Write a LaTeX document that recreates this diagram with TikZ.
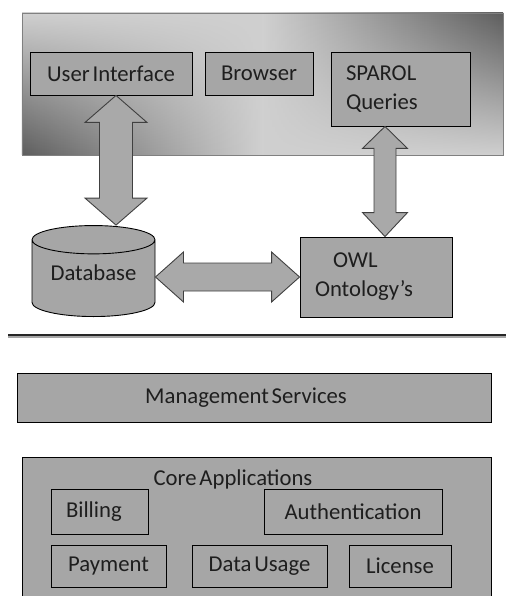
\documentclass[tikz,border=0pt]{standalone}
\usepackage{fontspec}
\setmainfont{Carlito}[WordSpace=0.55]
\usetikzlibrary{shapes.geometric,calc,fadings}
\definecolor{boxgray}{HTML}{A6A6A6}
\definecolor{arrowgray}{HTML}{A9A9A9}
\definecolor{paneldark}{HTML}{5E5E5E}
\definecolor{panellight}{HTML}{D0D0D0}
\definecolor{inkgray}{HTML}{1E1E1E}
\begin{document}
\begin{tikzpicture}[x=1pt,y=-1pt,
    every node/.style={font=\fontsize{22.7}{29}\selectfont, text=inkgray},
    box/.style={draw=black, line width=0.9pt, fill=boxgray, inner sep=0pt},
    fat/.style={draw=black!75, line width=0.9pt, fill=arrowgray, line join=miter}]
  \useasboundingbox (0,0) rectangle (506,596);
  \clip (0,0) rectangle (506,596);

  % client side
  \shade[left color=panellight, right color=paneldark, middle color=panellight] (22,13) rectangle (503,155);
  \shade[left color=paneldark, right color=panellight, middle color=panellight, path fading=north] (22,13) rectangle (503,155);
  \draw[gray] (22,13) rectangle (503,155);
  \node[box, minimum width=162pt, minimum height=43pt] (ui) at (111,73.5) {User Interface};
  \node[box, minimum width=108pt, minimum height=43pt] (browser) at (259,73.5) {Browser};
  \node[box, minimum width=139pt, minimum height=74pt, text width=109pt, inner xsep=15pt, align=left] (sparql) at (400.5,89) {SPAROL\\Queries};

  \node[box, cylinder, shape border rotate=90, aspect=0.33, minimum width=123pt, minimum height=91pt, anchor=south] (db) at (93.5,317) {\raisebox{12pt}{Database}};
  \node[box, minimum width=152pt, minimum height=80pt, text width=122pt, inner xsep=15pt, align=left] (owl) at (376,277) {\hspace{18pt}OWL\\Ontology's};

  \coordinate (uitip) at ($(ui.south)+(5,0)$);
  \coordinate (dbtip) at (uitip |- db.north);
  \draw[fat] (uitip) -- ++(31,27) -- ++(-14.5,0) -- ($(dbtip)+(16.5,-27)$) -- ++(14.5,0) -- (dbtip)
    -- ++(-31,-27) -- ++(14.5,0) -- ($(uitip)+(-16.5,27)$) -- ++(-14.5,0) -- cycle;

  \coordinate (dbtip2) at (db.east |- owl.west);
  \draw[fat] (dbtip2) -- ++(28,-25) -- ++(0,11) -- ($(owl.west)+(-28,-14)$) -- ++(0,-11) -- (owl.west)
    -- ++(-28,25) -- ++(0,-11) -- ($(dbtip2)+(28,14)$) -- ++(0,11) -- cycle;

  \coordinate (sqtip) at ($(sparql.south)+(-15.5,0)$);
  \coordinate (owltip) at (sqtip |- owl.north);
  \draw[fat] (sqtip) -- ++(22.5,22) -- ++(-11.5,0) -- ($(owltip)+(11,-24)$) -- ++(11.5,0) -- (owltip)
    -- ++(-22.5,-24) -- ++(11.5,0) -- ($(sqtip)+(-11,22)$) -- ++(-11.5,0) -- cycle;

  \draw[line width=1.6pt, black!85] (8,334.8) -- (506,334.8);
  \draw[line width=1.2pt, black!35] (8,337) -- (506,337);

  % server side
  \node[box, minimum width=474pt, minimum height=49pt] (mgmt) at (254,397.5) {Management Services\hspace*{16pt}};

  \node[box, minimum width=469pt, minimum height=150pt] (core) at (256.5,532) {};
  \node (coretitle) at (233,479) {Core Applications};
  \node[box, minimum width=97pt, minimum height=45pt, text width=67pt, inner xsep=15pt, align=left] (billing) at (99.5,511.5) {Billing};
  \node[box, minimum width=178pt, minimum height=45pt] (auth) at (353,511.5) {Authentication};
  \node[box, minimum width=115pt, minimum height=42pt] (payment) at (108.5,566) {Payment};
  \node[box, minimum width=135pt, minimum height=42pt] (usage) at (259.5,566) {Data Usage};
  \node[box, minimum width=102pt, minimum height=42pt] (license) at (400,566) {License};
\end{tikzpicture}
\end{document}
